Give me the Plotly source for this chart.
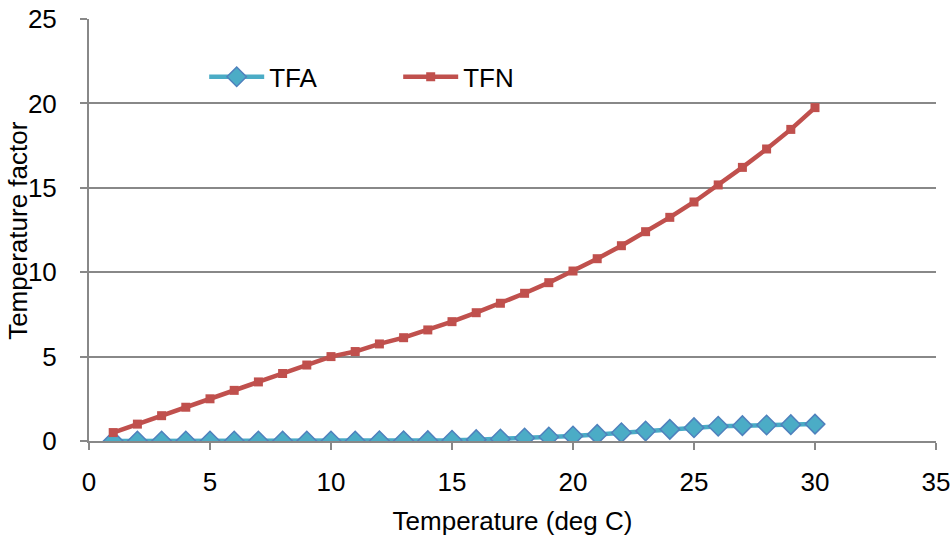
import plotly.graph_objects as go

temps = list(range(1, 31))
tfa = [0.0, 0.0, 0.0, 0.0, 0.0, 0.0, 0.0, 0.0, 0.0, 0.0,
       0.0, 0.01, 0.01, 0.02, 0.04, 0.08, 0.12, 0.18, 0.24, 0.30,
       0.39, 0.49, 0.59, 0.69, 0.79, 0.87, 0.91, 0.95, 0.97, 1.0]
tfn = [0.5, 1.0, 1.5, 2.0, 2.5, 3.0, 3.5, 4.0, 4.5, 5.0,
       5.3, 5.75, 6.12, 6.58, 7.07, 7.6, 8.16, 8.75, 9.38, 10.07,
       10.8, 11.57, 12.4, 13.25, 14.16, 15.17, 16.21, 17.3, 18.46, 19.75]

x_ticks = [0, 5, 10, 15, 20, 25, 30, 35]
y_ticks = [0, 5, 10, 15, 20, 25]

FONT = "Liberation Sans, Arial, sans-serif"
GRID = "#888888"
FS = 26

fig = go.Figure()
fig.add_trace(go.Scatter(
    x=temps, y=tfa, name="TFA", mode="lines+markers",
    line=dict(color="#4BACC6", width=4.5),
    marker=dict(symbol="diamond", size=15, color="#4BACC6",
                line=dict(color="#4F81BD", width=1.5)),
))
fig.add_trace(go.Scatter(
    x=temps, y=tfn, name="TFN", mode="lines+markers",
    line=dict(color="#C0504D", width=4.5),
    marker=dict(symbol="square", size=9, color="#C0504D",
                line=dict(color="#C0504D", width=0)),
))

# white legend background box hiding the gridline behind the legend
fig.add_shape(type="rect", xref="paper", yref="paper",
              x0=0.034, x1=0.601, y0=0.79, y1=0.81,
              fillcolor="white", line=dict(width=0), layer="between")

# y-axis title
fig.add_annotation(text="Temperature factor", xref="paper", yref="paper",
                   x=-0.084, y=0.5, xanchor="center", yanchor="middle",
                   textangle=-90, showarrow=False, font=dict(size=FS))

fig.update_layout(
    width=950, height=544,
    margin=dict(l=89, r=14, t=19, b=103),
    paper_bgcolor="white", plot_bgcolor="white",
    font=dict(family=FONT, size=FS, color="black"),
    showlegend=True,
    legend=dict(
        orientation="h", x=0.136, y=0.863, xanchor="left", yanchor="middle",
        bgcolor="rgba(0,0,0,0)", font=dict(size=FS),
        entrywidth=124, entrywidthmode="pixels",
        itemwidth=55, traceorder="normal",
    ),
    xaxis=dict(
        range=[0, 35], tickvals=x_ticks, ticktext=[str(v) for v in x_ticks],
        showgrid=False, zeroline=False, automargin=False,
        showline=True, linecolor=GRID, linewidth=2,
        ticks="outside", ticklen=7, tickcolor=GRID, tickwidth=2,
        ticklabelstandoff=10, ticklabeloverflow="allow",
        title=dict(text="Temperature (deg C)", standoff=16, font=dict(size=FS)),
    ),
    yaxis=dict(
        range=[0, 25], tickvals=y_ticks, ticktext=[str(v) for v in y_ticks],
        showgrid=True, gridcolor=GRID, gridwidth=2, zeroline=False,
        automargin=False,
        showline=True, linecolor=GRID, linewidth=2,
        ticks="outside", ticklen=7, tickcolor=GRID, tickwidth=2,
        ticklabelstandoff=18, ticklabeloverflow="allow",
    ),
)

fig.write_html("out.html")
